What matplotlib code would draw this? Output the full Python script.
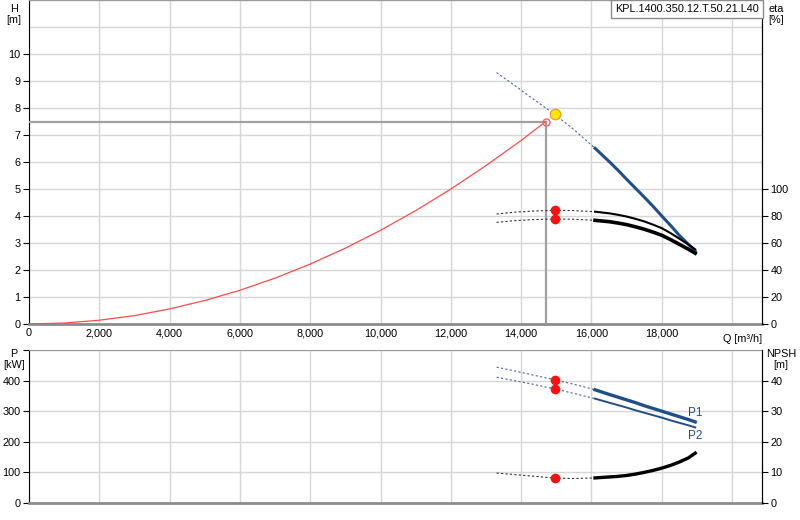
import matplotlib
matplotlib.use("Agg")
import matplotlib.pyplot as plt

plt.rcParams["font.family"] = ["Liberation Sans", "DejaVu Sans"]
plt.rcParams["font.size"] = 7.8

# Pump curves, solid from index SOLID_FROM on
q = [13300, 13800, 14300, 14950, 15500, 16100, 16500, 16750, 17000, 17250,
     17500, 17750, 18000, 18250, 18500, 18750, 18950]
head = [9.31, 8.85, 8.37, 7.77, 7.20, 6.51, 6.02, 5.70, 5.36, 5.03,
        4.70, 4.36, 4.00, 3.65, 3.28, 2.96, 2.70]
eta_1 = [81.5, 82.8, 83.6, 84.2, 84.0, 83.2, 82.0, 80.9, 79.6, 77.9,
         76.0, 73.6, 71.0, 67.3, 63.2, 59.0, 55.3]
eta_2 = [75.3, 76.5, 77.3, 77.8, 77.6, 76.8, 75.8, 74.8, 73.6, 72.0,
         70.2, 68.1, 65.7, 62.5, 59.0, 55.5, 52.4]
p1 = [444, 432, 419, 403, 388, 370, 355, 346, 337, 328,
      318, 309, 300, 291, 282, 273, 265]
p2 = [411, 400, 389, 373, 358, 341, 328, 320, 312, 303,
      295, 287, 279, 270, 262, 254, 247]
npsh = [9.8, 9.3, 8.8, 8.15, 8.0, 8.2, 8.5, 8.7, 9.0, 9.45,
        10.0, 10.65, 11.4, 12.3, 13.4, 14.7, 16.3]
SOLID_FROM = 5

# System curve
q_sys = [0, 1000, 2000, 3000, 4000, 5000, 6000, 7000, 8000, 9000, 10000,
         11000, 12000, 13000, 14000, 14700]
h_sys = [0, 0.035, 0.14, 0.31, 0.56, 0.87, 1.25, 1.70, 2.22, 2.81, 3.47,
         4.20, 5.00, 5.87, 6.80, 7.50]

# Duty / best points
q_duty, h_duty = 14700, 7.5
q_bep, h_bep = 14950, 7.77
eta_bep = [84.2, 77.8]
p_bep = [403, 373]
npsh_bep = 8.15

x_ticks = list(range(0, 20001, 2000))
x_labels = ["0", "2,000", "4,000", "6,000", "8,000", "10,000", "12,000",
            "14,000", "16,000", "18,000", ""]

BLUE = "#1f4f88"
DASH_BLUE = "#4a6a99"
GRID = "#d6d6d6"
XMAX = 20850

fig = plt.figure(figsize=(8, 5.2), dpi=100)
ax = fig.add_axes([29 / 800, 1 - 324 / 520, 733 / 800, 324 / 520])
ax2 = ax.twinx()
bx = fig.add_axes([29 / 800, 1 - 503 / 520, 733 / 800, 153 / 520])
bx2 = bx.twinx()

def style(a, right=None):
    a.set_xlim(0, XMAX)
    a.set_xticks(x_ticks)
    a.grid(True, color=GRID, lw=1)
    a.set_axisbelow(True)
    a.tick_params(axis="x", length=0, pad=3)
    a.tick_params(axis="y", length=4, width=0.8, pad=2)
    a.spines["left"].set_color("black")
    a.spines["bottom"].set_color("#8c8c8c")
    a.spines["bottom"].set_linewidth(2)
    a.spines["top"].set_color("#9a9a9a")
    a.spines["right"].set_color("black")
    if right is not None:
        right.tick_params(axis="y", length=4, width=0.8, pad=2)
        for s in ("top", "bottom", "left"):
            right.spines[s].set_visible(False)
        right.spines["right"].set_color("black")

style(ax, ax2)
style(bx, bx2)

# ---- top: head + efficiency
ax.set_ylim(0, 12)
ax.set_yticks(range(0, 13))
ax.set_yticklabels([str(i) for i in range(0, 11)] + ["", ""])
ax.set_xticklabels(x_labels)
for t in ax.yaxis.get_major_ticks()[11:]:
    t.tick1line.set_visible(False)

ax2.set_ylim(0, 240)
ax2.set_yticks(range(0, 101, 20))

ax.plot([0, q_duty], [h_duty, h_duty], color="#a0a0a0", lw=1.6, zorder=3)
ax.plot([q_duty, q_duty], [0, h_duty], color="#a0a0a0", lw=1.6, zorder=3)
ax.plot(q_sys, h_sys, color="#ff4a4a", lw=0.9, zorder=4)
ax.plot(q[:SOLID_FROM + 1], head[:SOLID_FROM + 1], color=DASH_BLUE, lw=0.8,
        ls=(0, (2, 2)), zorder=4)
ax.plot(q[SOLID_FROM:], head[SOLID_FROM:], color=BLUE, lw=2.2, zorder=5)
ax.plot([q_duty], [h_duty], "o", ms=5, mfc="none", mec="#ff6060", mew=1, zorder=6)
ax.plot([q_bep], [h_bep], "o", ms=7.5, mfc="#ffe800", mec="#f0a030", mew=1, zorder=6)

for e, lw in ((eta_1, 1.5), (eta_2, 2.6)):
    ax2.plot(q[:SOLID_FROM + 1], e[:SOLID_FROM + 1], color="#333333", lw=0.8,
             ls=(0, (2, 2)), zorder=4)
    ax2.plot(q[SOLID_FROM:], e[SOLID_FROM:], color="black", lw=lw, zorder=5)
ax2.plot([q_bep] * 2, eta_bep, "o", ms=6, color="#ff1010", zorder=6)

ax.text(1.0, -0.03, "Q [m³/h]", transform=ax.transAxes, ha="right", va="top")

# ---- bottom: power + NPSH
bx.set_ylim(0, 500)
bx.set_yticks(range(0, 501, 100))
bx.set_yticklabels(["0", "100", "200", "300", "400", ""])
bx.set_xticklabels([])
bx2.set_ylim(0, 50)
bx2.set_yticks(range(0, 41, 10))

bx.plot(q[:SOLID_FROM + 1], p1[:SOLID_FROM + 1], color=DASH_BLUE, lw=0.8,
        ls=(0, (2, 2)), zorder=4)
bx.plot(q[SOLID_FROM:], p1[SOLID_FROM:], color=BLUE, lw=2.4, zorder=5)
bx.plot(q[:SOLID_FROM + 1], p2[:SOLID_FROM + 1], color=DASH_BLUE, lw=0.8,
        ls=(0, (2, 2)), zorder=4)
bx.plot(q[SOLID_FROM:], p2[SOLID_FROM:], color=BLUE, lw=1.4, zorder=5)
bx.plot([q_bep] * 2, p_bep, "o", ms=6, color="#ff1010", zorder=6)
bx.text(q[-1], p1[-1] + 8, "P1", color=BLUE, ha="center", va="bottom", fontsize=8.5)
bx.text(q[-1], p2[-1] - 8, "P2", color=BLUE, ha="center", va="top", fontsize=8.5)

bx2.plot(q[:SOLID_FROM + 1], npsh[:SOLID_FROM + 1], color="#333333", lw=0.8,
         ls=(0, (2, 2)), zorder=4)
bx2.plot(q[SOLID_FROM:], npsh[SOLID_FROM:], color="black", lw=2.4, zorder=5)
bx2.plot([q_bep], [npsh_bep], "o", ms=6, color="#ff1010", zorder=6)

# axis titles
fig.text(14 / 800, 1 - 4 / 520, "H\n[m]", ha="center", va="top", linespacing=1.1)
fig.text(776 / 800, 1 - 4 / 520, "eta\n[%]", ha="center", va="top", linespacing=1.1)
fig.text(14 / 800, 1 - 349 / 520, "P\n[kW]", ha="center", va="top", linespacing=1.1)
fig.text(781 / 800, 1 - 349 / 520, "NPSH\n[m]", ha="center", va="top", linespacing=1.1)

# model box
fig.text(759 / 800, 1 - 9 / 520, "KPL.1400.350.12.T.50.21.L40", ha="right", va="center",
         bbox=dict(boxstyle="square,pad=0.35", fc="white", ec="#8c8c8c", lw=1))

fig.savefig("out.png", dpi=100)
